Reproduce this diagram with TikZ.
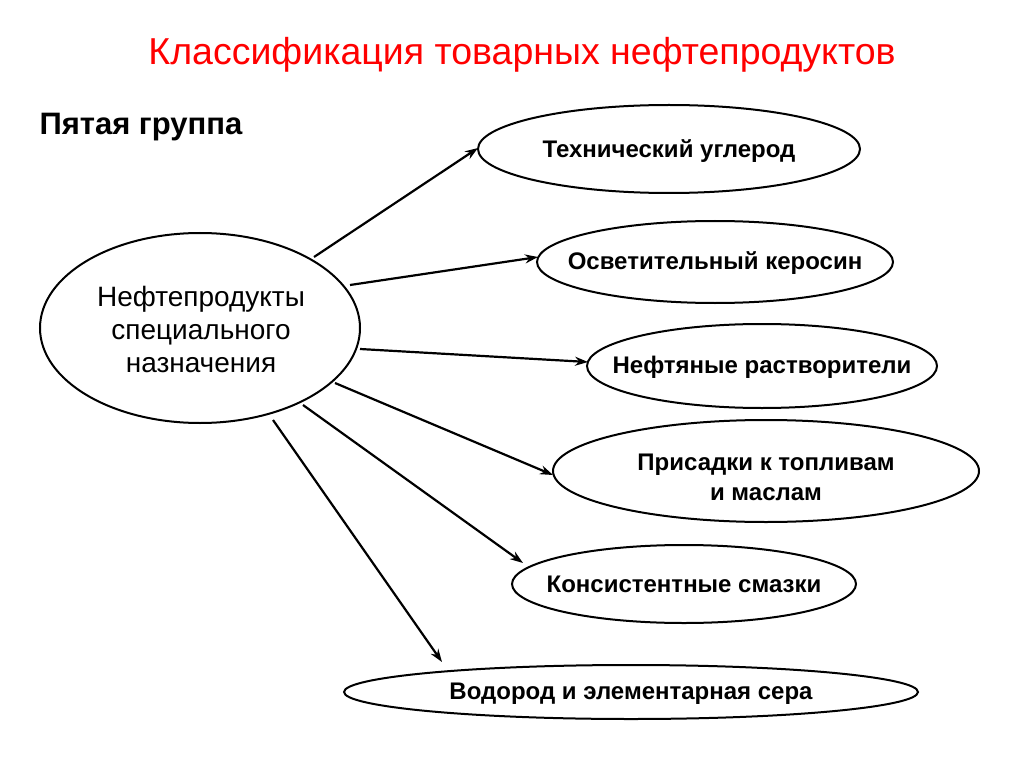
\documentclass[tikz,border=0pt]{standalone}
\usepackage{fontspec}
\setmainfont{Liberation Sans}
\usetikzlibrary{shapes.geometric,arrows.meta}
\begin{document}
\begin{tikzpicture}[x=1pt,y=-1pt,
  el/.style={draw,ellipse,line width=2pt,inner sep=0pt},
  lab/.style={font=\fontsize{24}{30}\selectfont\bfseries,align=center},
  arr/.style={-{Stealth[length=13pt,width=9pt]},line width=2.2pt}]
\useasboundingbox (0,0) rectangle (1024,767);
\node[text=red,font=\fontsize{37.5}{42}\selectfont] (title) at (522,55) {Классификация товарных нефтепродуктов};
\node[anchor=west,font=\fontsize{31}{36}\selectfont\bfseries] (grp) at (36,127) {Пятая группа};
\node[el,minimum width=320pt,minimum height=190pt] (c) at (200,328) {};
\node[align=center,font=\fontsize{28}{33}\selectfont] (ct) at (201,329) {Нефтепродукты\\специального\\назначения};
\node[el,minimum width=382pt,minimum height=88pt] (a1) at (669,149) {};
\node[lab] at (669,151) {Технический углерод};
\node[el,minimum width=356pt,minimum height=82pt] (a2) at (715,262) {};
\node[lab] at (715,263) {Осветительный керосин};
\node[el,minimum width=350pt,minimum height=84pt] (a3) at (762,366) {};
\node[lab] at (762,367) {Нефтяные растворители};
\node[el,minimum width=426pt,minimum height=102pt] (a4) at (766,471) {};
\node[lab] at (766,477) {Присадки к топливам\\и маслам};
\node[el,minimum width=344pt,minimum height=78pt] (a5) at (684,584) {};
\node[lab] at (684,584) {Консистентные смазки};
\node[el,minimum width=574pt,minimum height=54pt] (a6) at (631,692) {};
\node[lab] at (631,694) {Водород и элементарная сера};
\coordinate (s1) at (314,257); \coordinate (e1) at (478,148);
\coordinate (s2) at (350,285); \coordinate (e2) at (538,257);
\coordinate (s3) at (360,349); \coordinate (e3) at (588,362);
\coordinate (s4) at (335,383); \coordinate (e4) at (553,475);
\coordinate (s5) at (303,405); \coordinate (e5) at (523,563);
\coordinate (s6) at (273,420); \coordinate (e6) at (442,662);
\foreach \i in {1,...,6} \draw[arr] (s\i) -- (e\i);
\end{tikzpicture}
\end{document}
